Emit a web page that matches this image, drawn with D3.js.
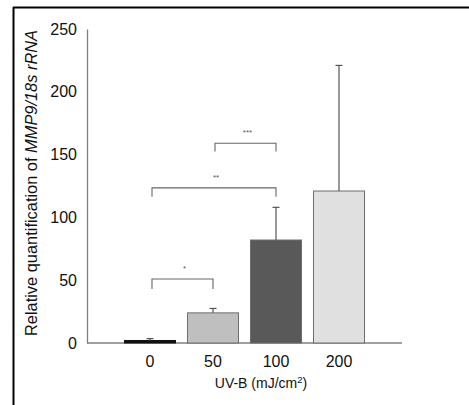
<!DOCTYPE html>
<html><head><meta charset="utf-8">
<script src="https://cdn.jsdelivr.net/npm/d3@7"></script>
<style>html,body{margin:0;padding:0;background:#fff;}svg{display:block;}</style>
</head><body>
<svg id="c" width="469" height="405"></svg>
<script>
const categories = ["0", "50", "100", "200"];
const means = [2, 24, 82, 121];
const errors = [1.5, 3.5, 26, 100];
const barColors = ["#111111", "#bfbfbf", "#595959", "#e0e0e0"];
const yTicks = [0, 50, 100, 150, 200, 250];
const brackets = [
  {from: "0", to: "50", top: 51, leg: 43, label: "*"},
  {from: "0", to: "100", top: 123.5, leg: 116.5, label: "**"},
  {from: "50", to: "100", top: 159, leg: 152.5, label: "***"}
];

const svg = d3.select("#c");
// outer frame
svg.append("line").attr("x1", 13.5).attr("x2", 13.5).attr("y1", 7).attr("y2", 405).attr("stroke", "#000").attr("stroke-width", 2);
svg.append("line").attr("x1", 13).attr("x2", 469).attr("y1", 7.5).attr("y2", 7.5).attr("stroke", "#000").attr("stroke-width", 2);

const x0 = 87, step = 63;
const x = d3.scaleBand().domain(categories).range([x0 + step / 2, x0 + step * 4.5]).paddingInner(0.19).paddingOuter(0.095);
const y = d3.scaleLinear().domain([0, 250]).range([343, 29]);

// y axis
const yAxis = svg.append("g").attr("transform", `translate(${x0},0)`)
  .call(d3.axisLeft(y).tickValues(yTicks).tickSize(0).tickPadding(10));
yAxis.select(".domain").attr("stroke", "#808080").attr("stroke-width", 1.3);
yAxis.selectAll("text").attr("font-family", "Liberation Sans, Arial, sans-serif").attr("font-size", 16).attr("fill", "#111");

// x axis
const xAxis = svg.append("g").attr("transform", `translate(0,${y(0)})`)
  .call(d3.axisBottom(x).tickSize(0).tickPadding(13));
xAxis.select(".domain").remove();
svg.append("line").attr("x1", x0).attr("x2", x0 + step * 5).attr("y1", y(0)).attr("y2", y(0)).attr("stroke", "#808080").attr("stroke-width", 1.3);
xAxis.selectAll("text").attr("font-family", "Liberation Sans, Arial, sans-serif").attr("font-size", 16).attr("fill", "#111");

// bars
svg.selectAll("rect.bar").data(categories).join("rect").attr("class", "bar")
  .attr("x", d => x(d)).attr("width", x.bandwidth())
  .attr("y", (d, i) => y(means[i])).attr("height", (d, i) => y(0) - y(means[i]))
  .attr("fill", (d, i) => barColors[i])
  .attr("stroke", (d, i) => i === 0 ? "#111" : "#6e6e6e").attr("stroke-width", 1);

// error bars
const eg = svg.append("g").attr("stroke", "#555").attr("stroke-width", 1.2);
categories.forEach((c, i) => {
  const cx = x(c) + x.bandwidth() / 2;
  eg.append("line").attr("x1", cx).attr("x2", cx).attr("y1", y(means[i])).attr("y2", y(means[i] + errors[i]));
  eg.append("line").attr("x1", cx - 3.5).attr("x2", cx + 3.5).attr("y1", y(means[i] + errors[i])).attr("y2", y(means[i] + errors[i]));
});

// significance brackets
const bg = svg.append("g");
brackets.forEach(b => {
  const xa = x(b.from) + x.bandwidth() / 2 + 2, xb = x(b.to) + x.bandwidth() / 2;
  bg.append("path").attr("fill", "none").attr("stroke", "#666").attr("stroke-width", 1.1)
    .attr("d", `M${xa},${y(b.leg)}V${y(b.top)}H${xb}V${y(b.leg)}`);
  bg.append("text").attr("x", (xa + xb) / 2 + 2).attr("y", y(b.top) - 8)
    .attr("text-anchor", "middle").attr("font-family", "Liberation Sans, Arial, sans-serif")
    .attr("font-size", 8).attr("fill", "#555").text(b.label);
});

// y label
const yl = svg.append("text").attr("transform", `translate(37,183) rotate(-90)`)
  .attr("text-anchor", "middle").attr("font-family", "Liberation Sans, Arial, sans-serif")
  .attr("font-size", 16.4).attr("fill", "#111");
yl.append("tspan").text("Relative quantification of ");
yl.append("tspan").attr("font-style", "italic").text("MMP9/18s rRNA");

// x label
const xl = svg.append("text").attr("x", 261).attr("y", 388).attr("text-anchor", "middle")
  .attr("font-family", "Liberation Sans, Arial, sans-serif").attr("font-size", 14).attr("fill", "#111");
xl.append("tspan").text("UV-B (mJ/cm");
xl.append("tspan").attr("font-size", 9.5).attr("dy", -5).text("2");
xl.append("tspan").attr("dy", 5).text(")");
</script>
</body></html>
